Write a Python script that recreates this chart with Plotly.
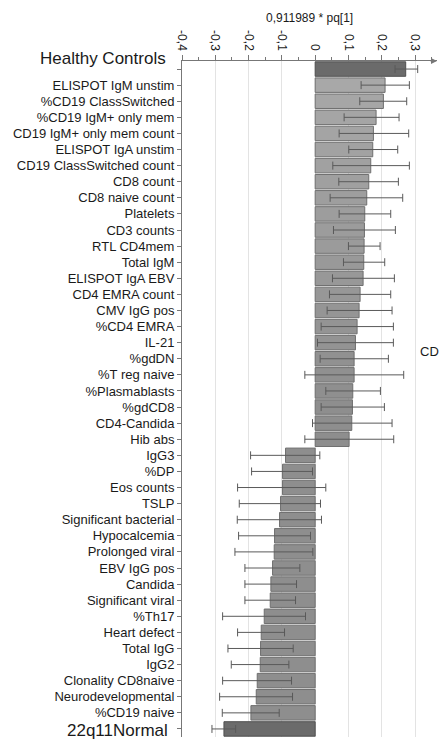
import plotly.graph_objects as go

categories = [
    "Healthy Controls", "ELISPOT IgM unstim", "%CD19 ClassSwitched", "%CD19 IgM+ only mem",
    "CD19 IgM+ only mem count", "ELISPOT IgA unstim", "CD19 ClassSwitched count", "CD8 count",
    "CD8 naive count", "Platelets", "CD3 counts", "RTL CD4mem", "Total IgM", "ELISPOT IgA EBV",
    "CD4 EMRA count", "CMV IgG pos", "%CD4 EMRA", "IL-21", "%gdDN", "%T reg naive",
    "%Plasmablasts", "%gdCD8", "CD4-Candida", "Hib abs", "IgG3", "%DP", "Eos counts", "TSLP",
    "Significant bacterial", "Hypocalcemia", "Prolonged viral", "EBV IgG pos", "Candida",
    "Significant viral", "%Th17", "Heart defect", "Total IgG", "IgG2", "Clonality CD8naive",
    "Neurodevelopmental", "%CD19 naive", "22q11Normal",
]

values = [
    0.272, 0.210, 0.205, 0.183, 0.175, 0.173, 0.167, 0.161, 0.155, 0.149, 0.148,
    0.147, 0.146, 0.144, 0.135, 0.132, 0.126, 0.121, 0.117, 0.117, 0.113, 0.112, 0.110,
    0.102, -0.089, -0.098, -0.098, -0.104, -0.107, -0.122, -0.123, -0.128, -0.133,
    -0.135, -0.153, -0.162, -0.164, -0.165, -0.174, -0.177, -0.193, -0.274,
]

ci_low = [
    0.240, 0.138, 0.134, 0.087, 0.072, 0.101, 0.053, 0.071, 0.045, 0.072, 0.055,
    0.100, 0.085, 0.052, 0.043, 0.036, 0.018, 0.007, 0.015, -0.031, 0.032, 0.018, -0.008,
    -0.031, -0.194, -0.191, -0.233, -0.228, -0.234, -0.230, -0.241, -0.211, -0.211,
    -0.211, -0.278, -0.233, -0.262, -0.252, -0.278, -0.287, -0.279, -0.310,
]

ci_high = [
    0.308, 0.283, 0.275, 0.252, 0.281, 0.248, 0.283, 0.250, 0.263, 0.227, 0.241,
    0.195, 0.209, 0.238, 0.227, 0.231, 0.235, 0.235, 0.220, 0.266, 0.196, 0.208, 0.231,
    0.236, 0.014, -0.008, 0.032, 0.016, 0.019, -0.014, -0.007, -0.046, -0.056,
    -0.059, -0.029, -0.092, -0.066, -0.079, -0.071, -0.068, -0.108, -0.239,
]

tick_vals = [-0.4, -0.3, -0.2, -0.1, 0, 0.1, 0.2, 0.3]
tick_text = ["-0,4", "-0,3", "-0,2", "-0,1", "0", "0,1", "0,2", "0,3"]
axis_title = "0,911989 * pq[1]"

n = len(categories)
err_plus = [h - v for h, v in zip(ci_high, values)]
err_minus = [v - l for l, v in zip(ci_low, values)]

colors = []
lines = []
for i in range(n):
    if i == 0 or i == n - 1:
        colors.append("#6b6b6b")
        lines.append("#4f4f4f")
    else:
        t = min(1.0, (i - 1) / 20.0)
        g = int(0xa8 - t * (0xa8 - 0x8e))
        colors.append(f"rgb({g},{g},{g})")
        lines.append("#6f6f6f")

fig = go.Figure()
fig.add_trace(go.Bar(
    x=values, y=categories, orientation="h",
    marker=dict(color=colors, line=dict(color=lines, width=1)),
    error_x=dict(type="data", symmetric=False, array=err_plus, arrayminus=err_minus,
                 color="#5a5a5a", thickness=1, width=4),
    showlegend=False,
))

ticktext_y = ["" if (i == 0 or i == n - 1) else c for i, c in enumerate(categories)]

fig.update_layout(
    width=442, height=743,
    margin=dict(l=182, r=5, t=61, b=6),
    paper_bgcolor="white", plot_bgcolor="white",
    bargap=0.1,
    font=dict(family="Liberation Sans, Arial, sans-serif", size=12, color="#1a1a1a"),
    xaxis=dict(
        side="top", range=[-0.4, 0.366], automargin=False,
        tickmode="array", tickvals=tick_vals, ticktext=tick_text,
        tickangle=90, tickfont=dict(size=12),
        showgrid=True, gridcolor="#e3e3e3", gridwidth=1,
        zeroline=False,
        showline=True, linecolor="#777777", linewidth=1,
        ticks="outside", ticklen=5, tickcolor="#777777",
        minor=dict(ticks="outside", ticklen=3, dtick=0.05, tickcolor="#777777", showgrid=False),
    ),
    yaxis=dict(
        type="category", categoryorder="array", categoryarray=categories,
        autorange="reversed", automargin=False,
        tickmode="array", tickvals=categories, ticktext=ticktext_y,
        showline=True, linecolor="#777777", linewidth=1,
        ticks="outside", ticklen=4, tickcolor="#777777",
        showgrid=False, tickfont=dict(size=13),
    ),
    annotations=[
        dict(text=axis_title, xref="paper", yref="paper", x=0.5, y=1.0636,
             xanchor="center", yanchor="middle", showarrow=False, font=dict(size=12)),
        dict(text="Healthy Controls", xref="paper", yref="paper", x=-0.055, y=1.0044,
             xanchor="right", yanchor="middle", showarrow=False, font=dict(size=17)),
        dict(text="22q11Normal", xref="paper", yref="paper", x=-0.047, y=0.0089,
             xanchor="right", yanchor="middle", showarrow=False, font=dict(size=17)),
        dict(text="CD", xref="paper", yref="paper", x=1.016, y=0.571,
             xanchor="right", yanchor="middle", showarrow=False, font=dict(size=13)),
        dict(x=1.0, y=1.0, ax=-8, ay=0, xref="paper", yref="paper", axref="pixel", ayref="pixel",
             text="", showarrow=True, arrowhead=2, arrowsize=1.2, arrowwidth=1, arrowcolor="#777777"),
    ],
)

fig.write_html("out.html", config={"displayModeBar": False},
               post_script="document.body.style.margin='0';document.body.style.overflow='hidden';")
